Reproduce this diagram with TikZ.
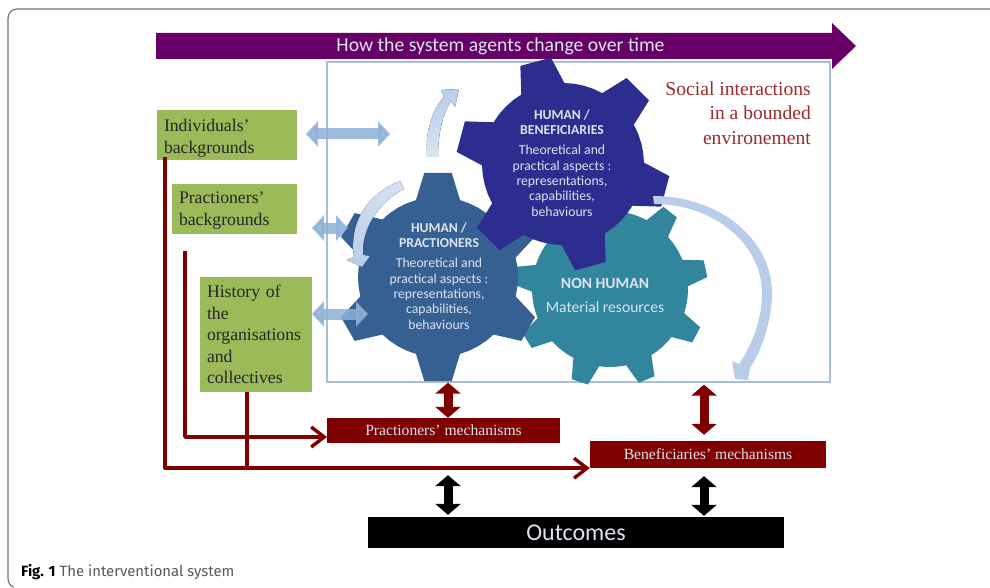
\documentclass[tikz,border=0pt]{standalone}
\usepackage{fontspec}
\setmainfont{Liberation Serif}
\newfontfamily\crl{Carlito}
\newfontfamily\capf{Fira Sans}
\usetikzlibrary{arrows.meta,calc}
\definecolor{purp}{HTML}{660066}
\definecolor{grn}{HTML}{9BBB59}
\definecolor{dred}{HTML}{800000}
\definecolor{gearA}{HTML}{366092}
\definecolor{gearB}{HTML}{2B2E8E}
\definecolor{gearC}{HTML}{31859C}
\definecolor{pale}{HTML}{DCE4EF}
\definecolor{lblue}{HTML}{8FB0D8}
\definecolor{cblue}{HTML}{B9CCEA}
\definecolor{socred}{HTML}{9E2B2B}
\definecolor{boundc}{HTML}{A9BDD4}
\newcommand\gp[4]{({#1+(#4)*cos(#3)},{#2-(#4)*sin(#3)})}
% cx cy r R start n base tip colour
\newcommand\gearfill[9]{%
  \pgfmathsetmacro\gs{360/#6}%
  \fill[#9] \gp{#1}{#2}{#5-#7}{#3}
  \foreach \k [evaluate=\k as \a using {#5+(\k-1)*\gs}] in {1,...,#6} {
    -- \gp{#1}{#2}{\a-#7}{#3}
    -- \gp{#1}{#2}{\a-#8}{#4}
    -- \gp{#1}{#2}{\a+#8}{#4}
    -- \gp{#1}{#2}{\a+#7}{#3}
    -- \gp{#1}{#2}{\a+#7+0.25*(\gs-2*#7)}{#3}
    -- \gp{#1}{#2}{\a+#7+0.5*(\gs-2*#7)}{#3}
    -- \gp{#1}{#2}{\a+#7+0.75*(\gs-2*#7)}{#3}
  } -- cycle;}
\tikzset{
  greenbox/.style={fill=grn,inner sep=0pt,font=\fontsize{17.7}{21.5}\selectfont,text=black!85,align=left},
  mech/.style={fill=dred,text=pale,inner sep=0pt,font=\fontsize{15.6}{18}\selectfont},
  geartext/.style={text=pale,align=center,inner sep=0pt,font=\crl\fontsize{13.7}{15.3}\selectfont},
  redline/.style={draw=dred,line width=3.6pt,line join=round},
  redtip/.style={-{Straight Barb[length=13pt,width=20pt,line width=3.4pt]}},
  dbl/.style={line width=9pt,{Triangle[length=11pt,width=25pt]}-{Triangle[length=11pt,width=25pt]}},
  bluedbl/.style={draw=lblue,line width=11pt,opacity=.85,{Triangle[length=12pt,width=25pt]}-{Triangle[length=12pt,width=25pt]}},
}
\begin{document}
\begin{tikzpicture}[x=1pt,y=-1pt]
\useasboundingbox (0,0) rectangle (990,588);
\fill[white] (0,0) rectangle (990,588);
\draw[draw=black!55,line width=1.1pt] (990,9) -- (17,9) to[out=180,in=90] (8,18) -- (8,578) to[out=270,in=170] (14,587);

% title arrow
\fill[purp] (156,33) -- (832,33) -- (832,23) -- (856,46) -- (832,69) -- (832,59) -- (156,59) -- cycle;
\node (title) at (500.5,46.5) [text=pale,font=\crl\fontsize{19.7}{22}\selectfont,inner sep=0pt] {How the system agents change over time};

% bounded environment
\node (bound) [draw=boundc,line width=1.3pt,minimum width=503pt,minimum height=320pt,inner sep=0pt] at (578.5,222) {};
\node (social) at (811,113) [anchor=east,align=right,text=socred,inner sep=0pt,font=\fontsize{19.6}{24.6}\selectfont] {Social interactions\\in a bounded\\environement};

% gears
\gearfill{610}{289}{78}{98}{52}{9}{10}{5}{gearC}
\gearfill{438}{277}{80}{105}{30}{6}{16}{7.5}{gearA}
\gearfill{563}{164}{81}{107}{45}{6}{16}{8.5}{gearB}

% curved arrows
\fill[bottom color=cblue!55,top color=cblue] (426,157) .. controls (426,130) and (432,110) .. (444,97) -- (441,90) -- (459,89) -- (455,107) -- (451,101) .. controls (442,115) and (438,135) .. (438,157) -- cycle;
\fill[top color=cblue!60,bottom color=cblue] (400,181) .. controls (365,195) and (349,225) .. (354,257) -- (347,260) -- (362,267) -- (370,256) -- (363,255) .. controls (361,230) and (378,202) .. (404,189) -- cycle;
\fill[cblue] (653,196) .. controls (720,196) and (772,240) .. (772,293) .. controls (772,320) and (762,350) .. (750,368) -- (748,380) -- (735,379) -- (732,361) -- (739,364) .. controls (752,345) and (762,320) .. (762,293) .. controls (762,245) and (715,204) .. (654,204) -- cycle;

% gear labels
\node (gB) [geartext] at (562,163) {\textbf{HUMAN /}\\\textbf{BENEFICIARIES}\\[5pt]Theoretical and\\practical aspects :\\representations,\\capabilities,\\behaviours};
\node (gA) [geartext] at (439,276) {\textbf{HUMAN /}\\\textbf{PRACTIONERS}\\[5pt]Theoretical and\\practical aspects :\\representations,\\capabilities,\\behaviours};
\node (gC) [text=pale,align=center,inner sep=0pt,font=\crl\fontsize{15.6}{24}\selectfont] at (605,295) {\textbf{NON HUMAN}\\Material resources};

% green boxes
\node (indiv) [greenbox,minimum width=140pt,minimum height=50pt,text width=126pt] at (227,135.5) {\rule{0pt}{18pt}Individuals’\\backgrounds};
\node (pract) [greenbox,minimum width=125pt,minimum height=50pt,text width=111pt] at (234.5,209) {\rule{0pt}{15pt}Practioners’\\backgrounds};
\node (hist) [greenbox,minimum width=112pt,minimum height=115pt,text width=98pt] at (256,334.5) {History of\\the\\organisations\\and\\collectives};

% mechanism boxes
\node (mechP) [mech,minimum width=233pt,minimum height=25pt] at (443.5,430.5) {Practioners’ mechanisms};
\node (mechB) [mech,minimum width=236pt,minimum height=27pt] at (708,454.5) {Beneficiaries’ mechanisms};
\node (out) [fill=black,text=pale,inner sep=0pt,minimum width=416pt,minimum height=31pt,font=\crl\fontsize{24}{26}\selectfont] at (576,532.5) {Outcomes};

% caption
\node (cap) [anchor=west,inner sep=0pt,text=black!65,font=\capf\fontsize{14.9}{16}\selectfont] at (21,572) {\textcolor{black}{\textbf{Fig. 1}} The interventional system};

% coordinates
\coordinate (colL) at (448,0);
\coordinate (colR) at (704,0);
\coordinate (a1) at (306,134); \coordinate (a2) at (390,134);
\coordinate (b1) at (312,228); \coordinate (b2) at (348,228);
\coordinate (c1) at (312,314); \coordinate (c2) at (368,314);
\coordinate (ja) at (165,157);
\coordinate (jb) at (185,251);
\coordinate (jbe) at (327,437);
\coordinate (jc) at (247,392);
\coordinate (jce) at (247,468);

% blue double arrows
\draw[bluedbl] (a1) -- (a2);
\draw[bluedbl] (b1) -- (b2);
\draw[bluedbl] (c1) -- (c2);

% red connectors
\draw[redline,redtip] (ja) |- (mechB.south west);
\draw[redline,redtip] (jb) |- (jbe);
\draw[redline] (jc) -- (jce);

% double arrows
\draw[dred,dbl] (bound.south -| colL) -- (mechP.north -| colL);
\draw[dred,dbl,shorten >=6pt,shorten <=2pt] (bound.south -| colR) -- (mechB.north -| colR);
\draw[black,dbl,shorten <=7pt,shorten >=2pt] (mechB.south -| colL) -- (out.north -| colL);
\draw[black,dbl,shorten <=8pt,shorten >=1pt] (mechB.south -| colR) -- (out.north -| colR);
\end{tikzpicture}
\end{document}
